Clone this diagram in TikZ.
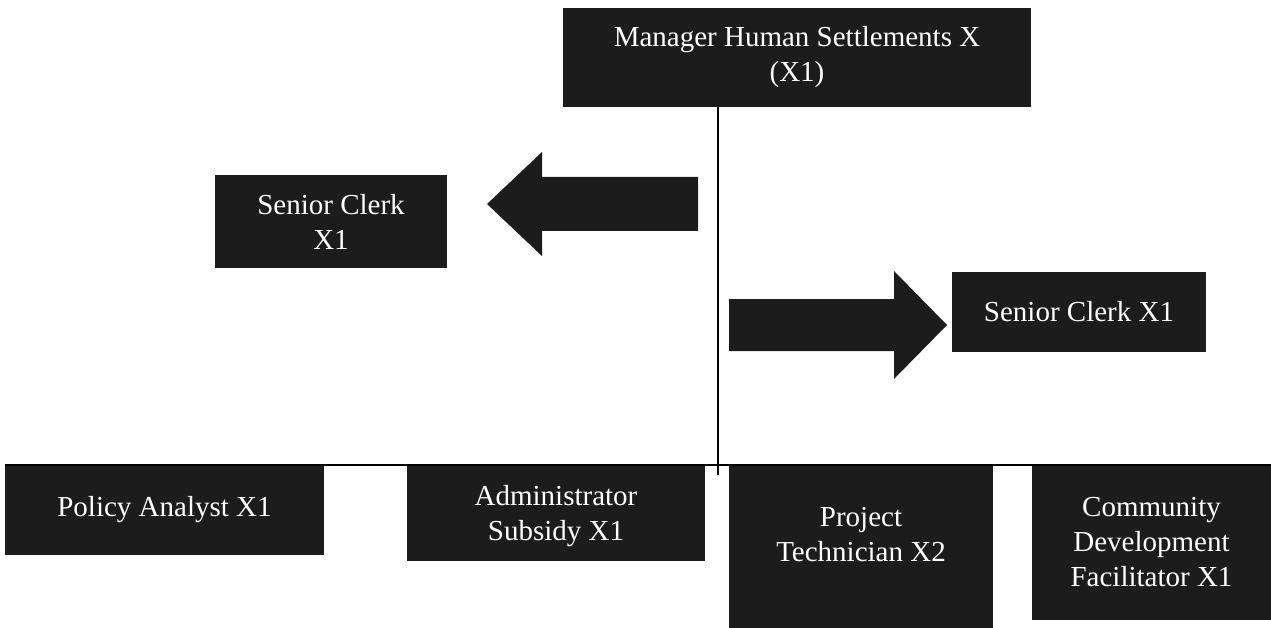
\documentclass[tikz,border=0pt]{standalone}
\usepackage{fontspec}
\setmainfont{Liberation Serif}
\definecolor{boxfill}{HTML}{1C1C1C}
\begin{document}
\begin{tikzpicture}[x=1pt,y=-1pt,
  box/.style={fill=boxfill, draw=none, inner sep=0pt, outer sep=0pt, anchor=north west},
  lbl/.style={text=white, align=center, inner sep=0pt, font=\fontsize{29}{35}\selectfont},
  conn/.style={draw=black, line width=1.3pt},
  blockarrow/.style={fill=boxfill, draw=none}]
\useasboundingbox (0,0) rectangle (1271,628);
% boxes
\node[box, minimum width=468pt, minimum height=99pt] (mgr) at (563,8) {};
\node[lbl] (mgrl) at (mgr.center) {Manager Human Settlements X\\(X1)};
\node[box, minimum width=232pt, minimum height=93pt] (scl) at (215,175) {};
\node[lbl] (scll) at (scl.center) {Senior Clerk\\X1};
\node[box, minimum width=254pt, minimum height=80pt] (scr) at (952,272) {};
\node[lbl] (scrl) at (scr.center) {Senior Clerk X1};
\node[box, minimum width=319pt, minimum height=90pt] (pol) at (5,465) {};
\node[lbl] (poll) at (pol.center) {Policy Analyst X1};
\node[box, minimum width=298pt, minimum height=96pt] (adm) at (407,465) {};
\node[lbl] (adml) at ([yshift=-3pt]adm.center) {Administrator\\Subsidy X1};
\node[box, minimum width=264pt, minimum height=163pt] (pt) at (729,465) {};
\node[lbl] (ptl) at ([yshift=12pt]pt.center) {Project\\Technician X2};
\node[box, minimum width=239pt, minimum height=155pt] (cdf) at (1032,465) {};
\node[lbl] (cdfl) at (cdf.center) {Community\\Development\\Facilitator X1};
% connectors
\coordinate (vb) at (718,475);
\coordinate (hl) at (5,465);
\coordinate (hr) at (1271,465);
\draw[conn] (mgr.south -| vb) -- (vb);
\draw[conn] (hl) -- (hr);
% block arrows
\fill[blockarrow] (698,177) -- (542,177) -- (542,152) -- (487,204) -- (542,256) -- (542,231) -- (698,231) -- cycle;
\fill[blockarrow] (729,299) -- (894,299) -- (894,271) -- (947,325) -- (894,379) -- (894,351) -- (729,351) -- cycle;
\end{tikzpicture}
\end{document}
